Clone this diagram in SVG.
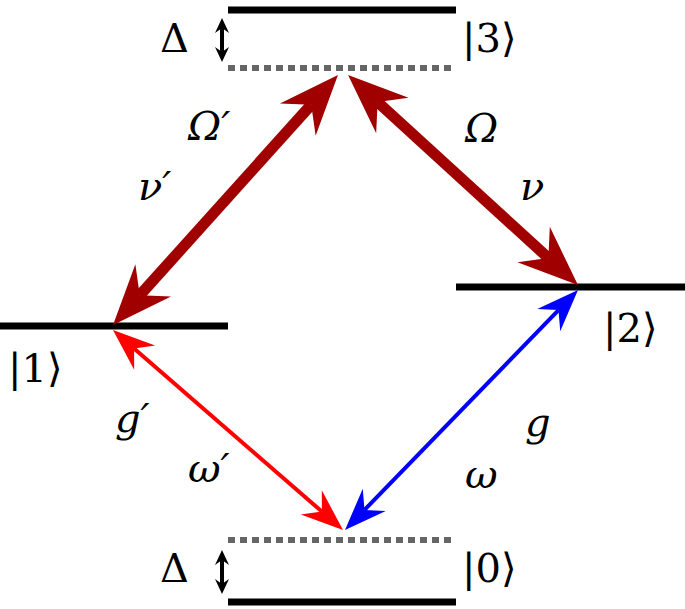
<svg xmlns="http://www.w3.org/2000/svg" width="685" height="609" viewBox="0 0 685 609">
<style>
.lvl{stroke:#000;stroke-width:7}
.dash{stroke:#666;stroke-width:6;stroke-dasharray:7,5}
.t{font-family:"DejaVu Serif","Liberation Serif",serif;font-size:40px;fill:#000}
.i{font-style:italic}
</style>
<defs>
<marker id="hb" viewBox="-62 -26 64 52" markerWidth="64" markerHeight="52" refX="-40" refY="0" markerUnits="userSpaceOnUse" orient="auto-start-reverse"><path d="M0,0 L-60,-24 L-40,0 L-60,24 Z" fill="#a00000"/></marker>
<marker id="hr" viewBox="-44 -18 46 36" markerWidth="46" markerHeight="36" refX="-28" refY="0" markerUnits="userSpaceOnUse" orient="auto-start-reverse"><path d="M0,0 L-42,-16 L-28,0 L-42,16 Z" fill="#ff0000"/></marker>
<marker id="hbl" viewBox="-44 -18 46 36" markerWidth="46" markerHeight="36" refX="-28" refY="0" markerUnits="userSpaceOnUse" orient="auto-start-reverse"><path d="M0,0 L-42,-16 L-28,0 L-42,16 Z" fill="#0000ff"/></marker>
<marker id="hk" viewBox="-16 -8 17 16" markerWidth="17" markerHeight="16" refX="-8" refY="0" markerUnits="userSpaceOnUse" orient="auto-start-reverse"><path d="M0,0 L-15,-7 L-10,0 L-15,7 Z" fill="#000"/></marker>
</defs>
<g id="level3"><line class="lvl" x1="228" y1="10" x2="456" y2="10"/><line class="dash" x1="228" y1="68" x2="456" y2="68"/><text class="t" x="462" y="52">|3⟩</text><text class="t" x="160" y="52">Δ</text><line stroke="#000" stroke-width="4" x1="222" y1="26" x2="222" y2="54" marker-start="url(#hk)" marker-end="url(#hk)"/></g>
<g id="level2"><line class="lvl" x1="456" y1="287" x2="685" y2="287"/><text class="t" x="603" y="342">|2⟩</text></g>
<g id="level1"><line class="lvl" x1="0" y1="326" x2="228" y2="326"/><text class="t" x="8" y="382">|1⟩</text></g>
<g id="level0"><line class="dash" x1="228" y1="540" x2="456" y2="540"/><line class="lvl" x1="228" y1="602" x2="456" y2="602"/><text class="t" x="462" y="582">|0⟩</text><text class="t" x="160" y="582">Δ</text><line stroke="#000" stroke-width="4" x1="222" y1="558" x2="222" y2="586" marker-start="url(#hk)" marker-end="url(#hk)"/></g>
<g id="connectors">
<line stroke="#a00000" stroke-width="11" x1="311.2" y1="104.8" x2="139.8" y2="295.2" marker-start="url(#hb)" marker-end="url(#hb)"/>
<line stroke="#a00000" stroke-width="11" x1="377.6" y1="102" x2="548.4" y2="258" marker-start="url(#hb)" marker-end="url(#hb)"/>
<line stroke="#ff0000" stroke-width="4" x1="134.1" y1="348.4" x2="321.9" y2="511.6" marker-start="url(#hr)" marker-end="url(#hr)"/>
<line stroke="#0000ff" stroke-width="4" x1="558.5" y1="310.1" x2="364.5" y2="509.9" marker-start="url(#hbl)" marker-end="url(#hbl)"/>
</g>
<g id="labels">
<text class="t i" x="188" y="140">Ω′</text><text class="t i" x="138" y="200">ν′</text>
<text class="t i" x="465" y="142">Ω</text><text class="t i" x="520" y="200">ν</text>
<text class="t i" x="115" y="432">g′</text><text class="t i" x="188" y="482">ω′</text>
<text class="t i" x="525" y="436">g</text><text class="t i" x="465" y="488">ω</text>
</g>
</svg>
